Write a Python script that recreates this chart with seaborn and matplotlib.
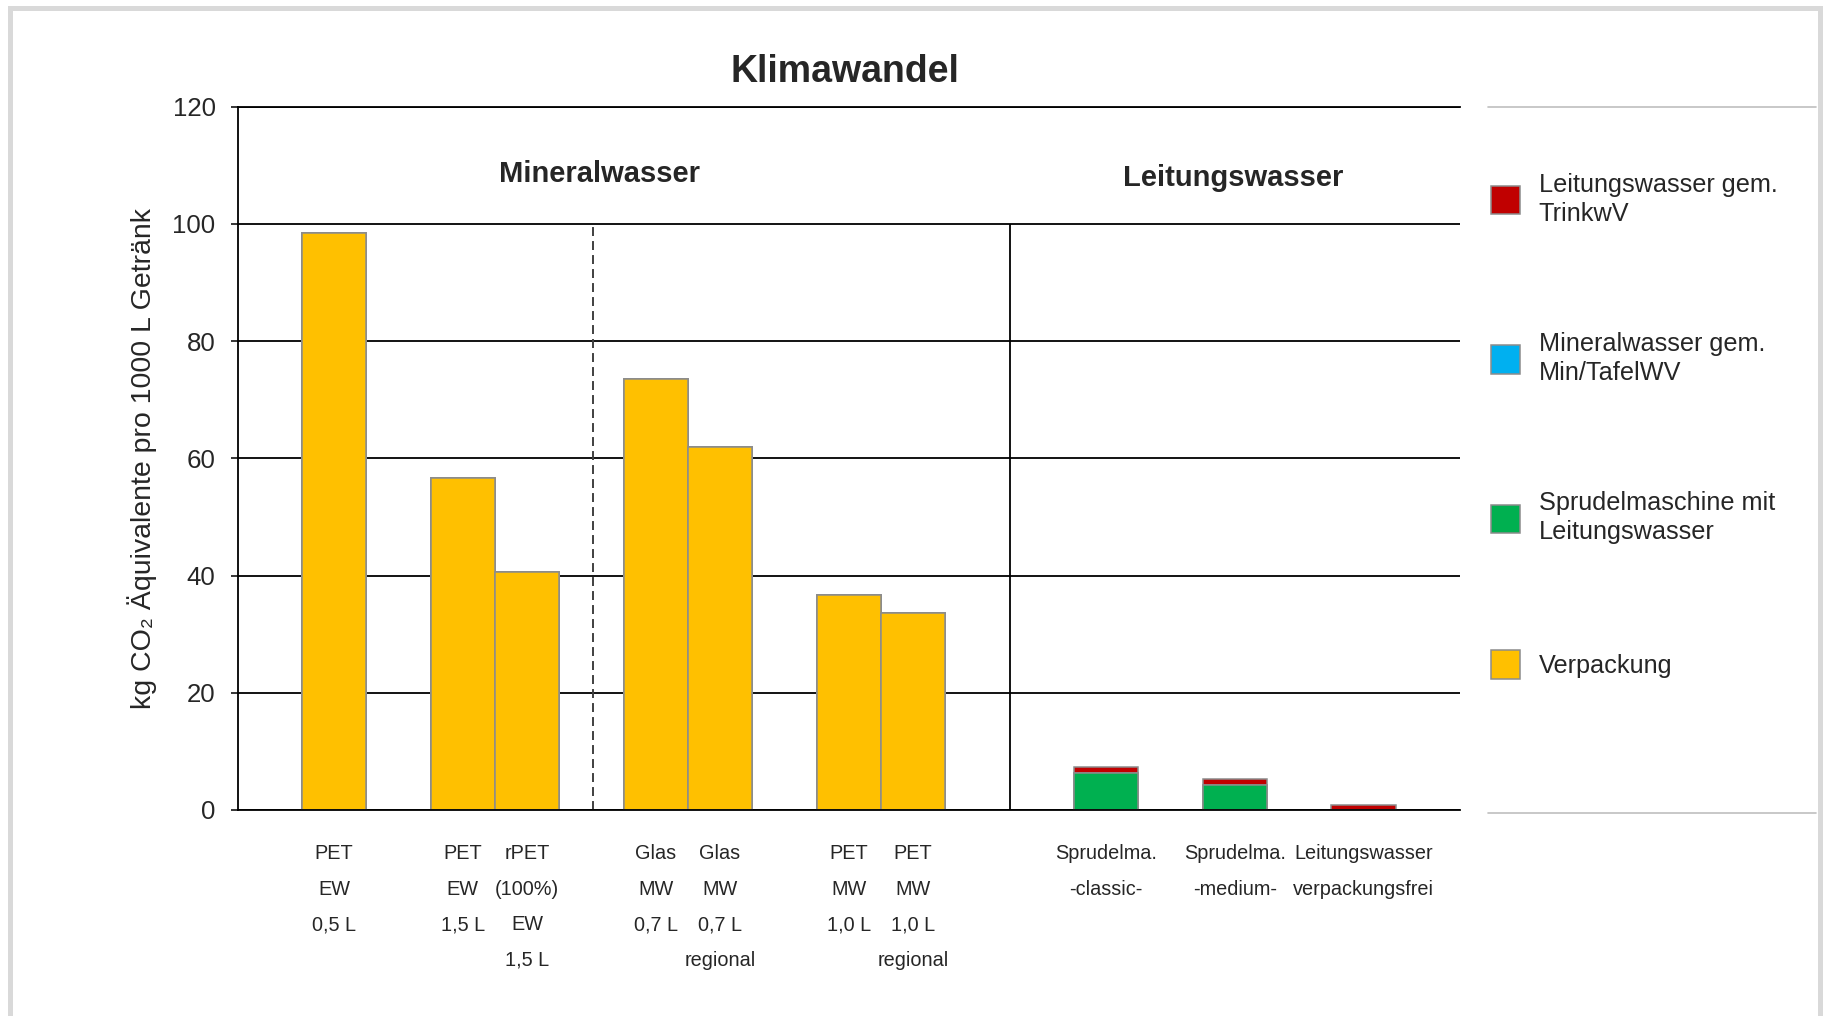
import matplotlib.pyplot as plt
from matplotlib.lines import Line2D
from matplotlib.patches import Rectangle
import pandas as pd
import seaborn as sns

# Produkte in Diagramm-Reihenfolge
produkte = [
    "PET\nEW\n0,5 L",
    "PET\nEW\n1,5 L",
    "rPET\n(100%)\nEW\n1,5 L",
    "Glas\nMW\n0,7 L",
    "Glas\nMW\n0,7 L\nregional",
    "PET\nMW\n1,0 L",
    "PET\nMW\n1,0 L\nregional",
    "Sprudelma.\n-classic-",
    "Sprudelma.\n-medium-",
    "Leitungswasser\nverpackungsfrei",
]

# kg CO2-Aequivalente pro 1000 L, je Beitrag (von unten nach oben gestapelt)
verpackung = [98.5, 56.7, 40.6, 73.6, 61.9, 36.6, 33.6, 0.0, 0.0, 0.0]
sprudelmaschine = [0.0, 0.0, 0.0, 0.0, 0.0, 0.0, 0.0, 6.3, 4.2, 0.0]
mineralwasser = [0.0, 0.0, 0.0, 0.0, 0.0, 0.0, 0.0, 0.0, 0.0, 0.0]
leitungswasser = [0.0, 0.0, 0.0, 0.0, 0.0, 0.0, 0.0, 1.0, 1.0, 0.9]

# Kategorien-Reihenfolge mit leeren Platzhaltern als Abstand
reihenfolge = [
    produkte[0], "_l1", produkte[1], produkte[2], "_l2",
    produkte[3], produkte[4], "_l3", produkte[5], produkte[6],
    "_l4", "_l5", produkte[7], "_l6", produkte[8], "_l7", produkte[9], "_l8",
]

df = pd.DataFrame({
    "produkt": produkte,
    "verpackung": verpackung,
    "sprudelmaschine": sprudelmaschine,
    "mineralwasser": mineralwasser,
    "leitungswasser": leitungswasser,
})
df["stufe_gruen"] = df["verpackung"] + df["sprudelmaschine"]
df["stufe_blau"] = df["stufe_gruen"] + df["mineralwasser"]
df["stufe_rot"] = df["stufe_blau"] + df["leitungswasser"]

# Oberste Stufe zuerst zeichnen, die unteren darueber legen
schichten = [
    ("stufe_rot", "Leitungswasser gem.\nTrinkwV", "#C00000"),
    ("stufe_blau", "Mineralwasser gem.\nMin/TafelWV", "#00B0F0"),
    ("stufe_gruen", "Sprudelmaschine mit\nLeitungswasser", "#00B050"),
    ("verpackung", "Verpackung", "#FFC000"),
]

sns.set_theme(style="white")
plt.rcParams["font.family"] = ["Liberation Sans", "DejaVu Sans"]

fig, ax = plt.subplots(figsize=(18.27, 10.16))
fig.subplots_adjust(left=0.1300, right=0.7991, bottom=0.2028, top=0.8949)

for spalte, name, farbe in schichten:
    sns.barplot(
        data=df, x="produkt", y=spalte, order=reihenfolge, ax=ax,
        color=farbe, saturation=1, width=1.0, errorbar=None,
        edgecolor="#8c8c8c", linewidth=1.1, label=name,
    )
if ax.get_legend() is not None:
    ax.get_legend().remove()

ax.set_xlim(-1.5, len(reihenfolge) - 0.5)
ax.set_ylim(0, 120)
ax.set_xlabel("")
ax.set_ylabel("kg CO\u2082 Äquivalente pro 1000 L Getränk", fontsize=20.5, va="center")
ax.yaxis.set_label_coords(-0.078, 0.5)

ax.set_yticks(range(0, 121, 20))
ax.tick_params(axis="y", length=5.4, width=1.1, pad=10.4, labelsize=18.6,
               color="black", left=True)
ax.set_xticks([reihenfolge.index(p) for p in produkte], produkte)
ax.tick_params(axis="x", length=0, pad=24.5, labelsize=14.3)
for lbl in ax.get_xticklabels():
    lbl.set_linespacing(2.11)

ax.yaxis.grid(True, color="black", linewidth=1.3)
ax.set_axisbelow(True)
for seite in ["left", "bottom", "top"]:
    ax.spines[seite].set_color("black")
    ax.spines[seite].set_linewidth(1.3)
ax.spines["right"].set_visible(False)

# Trennlinien zwischen den Gruppen
ax.vlines(reihenfolge.index("_l2") + 0.03, 0, 100, color="#404040", linewidth=1.4,
          linestyles=(0, (4.6, 2.6)))
ax.vlines(reihenfolge.index("_l4") + 0.5, 0, 100, color="black", linewidth=1.3)

ax.text(4.13, 108.6, "Mineralwasser", fontsize=21, fontweight="bold",
        ha="center", va="center")
ax.text(13.97, 107.8, "Leitungswasser", fontsize=21, fontweight="bold",
        ha="center", va="center")

fig.text(0.4625, 0.929, "Klimawandel", fontsize=27, fontweight="bold",
         ha="center", va="center")

handles, labels = ax.get_legend_handles_labels()
leg = fig.legend(
    handles, labels, loc="center left", bbox_to_anchor=(0.816, 0.581),
    frameon=False, fontsize=18.2, handlelength=1.15, handleheight=1.35,
    handletextpad=0.74, labelspacing=4.2, borderpad=0, borderaxespad=0,
)
for t in leg.get_texts():
    t.set_linespacing(1.27)

# Linien ober- und unterhalb der Legende
fig.add_artist(Line2D([0.8144, 0.994], [0.895, 0.895], color="#bfbfbf",
                      linewidth=1.2, transform=fig.transFigure))
fig.add_artist(Line2D([0.8144, 0.994], [0.1998, 0.1998], color="#bfbfbf",
                      linewidth=1.2, transform=fig.transFigure))

# Rahmen um das Diagramm (unten abgeschnitten)
fig.add_artist(Rectangle((0.0052, -0.05), 0.9912, 1.0426, fill=False,
                         edgecolor="#d9d9d9", linewidth=3.6,
                         transform=fig.transFigure))

fig.savefig("out.png", dpi=100)
